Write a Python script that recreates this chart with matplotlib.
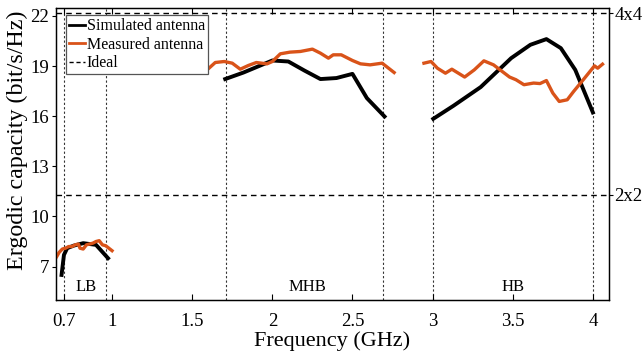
import matplotlib
matplotlib.use("Agg")
import matplotlib.pyplot as plt

plt.rcParams['font.family'] = ['Liberation Serif', 'DejaVu Serif']
plt.rcParams['mathtext.fontset'] = 'stix'

# ---- data ----
lb_sim_f = [0.685, 0.70, 0.72, 0.76, 0.82, 0.90, 0.975]
lb_sim_v = [6.5, 7.7, 8.1, 8.25, 8.4, 8.3, 7.5]
lb_meas_f = [0.655, 0.67, 0.69, 0.71, 0.73, 0.75, 0.77, 0.79, 0.80, 0.82,
             0.84, 0.86, 0.88, 0.90, 0.92, 0.94, 0.96, 0.98, 1.0]
lb_meas_v = [7.6, 7.85, 8.05, 8.1, 8.2, 8.2, 8.3, 8.35, 8.1, 8.05,
             8.3, 8.35, 8.4, 8.5, 8.55, 8.3, 8.25, 8.1, 7.95]

mhb_sim_f = [1.706, 1.82, 2.0, 2.10, 2.20, 2.30, 2.40, 2.50, 2.59, 2.70]
mhb_sim_v = [18.22, 18.61, 19.33, 19.27, 18.73, 18.22, 18.28, 18.53, 17.08, 15.98]
mhb_meas_f = [1.60, 1.644, 1.70, 1.75, 1.80, 1.85, 1.90, 1.967, 2.0, 2.05, 2.11,
              2.175, 2.25, 2.30, 2.35, 2.38, 2.43, 2.50, 2.55, 2.61, 2.685, 2.76]
mhb_meas_v = [18.83, 19.21, 19.27, 19.17, 18.81, 19.03, 19.21, 19.13, 19.27, 19.73, 19.83,
              19.87, 20.01, 19.77, 19.47, 19.67, 19.67, 19.33, 19.13, 19.07, 19.17, 18.61]

hb_sim_f = [3.004, 3.13, 3.30, 3.49, 3.61, 3.71, 3.80, 3.89, 4.0]
hb_sim_v = [15.84, 16.62, 17.74, 19.47, 20.27, 20.61, 20.07, 18.77, 16.22]
hb_meas_f = [2.946, 2.99, 3.03, 3.08, 3.12, 3.20, 3.26, 3.32, 3.38, 3.48, 3.52, 3.57,
             3.63, 3.67, 3.71, 3.75, 3.79, 3.84, 3.88, 3.94, 4.01, 4.03, 4.06]
hb_meas_v = [19.17, 19.27, 18.87, 18.57, 18.81, 18.34, 18.77, 19.31, 19.07, 18.34, 18.18, 17.88,
             17.98, 17.95, 18.13, 17.38, 16.88, 16.98, 17.48, 18.18, 19.01, 18.87, 19.11]

ideal_values = [22.16, 11.3]
ideal_labels = ['4x4', '2x2']
band_edges = [0.698, 0.96, 1.71, 2.69, 3.0, 4.0]
band_names = ['LB', 'MHB', 'HB']
band_label_x = [0.84, 2.22, 3.5]

xticks = [0.7, 1, 1.5, 2, 2.5, 3, 3.5, 4]
xticklabels = ['0.7', '1', '1.5', '2', '2.5', '3', '3.5', '4']
yticks = [7, 10, 13, 16, 19, 22]

black = '#000000'
orange = '#D95319'

fig = plt.figure(figsize=(6.43, 3.58), dpi=100)
ax = fig.add_axes([0.087, 0.162, 0.86, 0.817])

for xe in band_edges:
    ax.axvline(xe, color='#333333', linestyle=(0, (2, 2)), linewidth=0.8, zorder=1)
for yv in ideal_values:
    ax.axhline(yv, color='black', linestyle=(0, (4, 3)), linewidth=1.0, zorder=1)

ax.plot(lb_sim_f, lb_sim_v, color=black, linewidth=2.8, zorder=3)
ax.plot(mhb_sim_f, mhb_sim_v, color=black, linewidth=2.8, zorder=3)
ax.plot(hb_sim_f, hb_sim_v, color=black, linewidth=2.8, zorder=3)
ax.plot(lb_meas_f, lb_meas_v, color=orange, linewidth=2.4, zorder=4)
ax.plot(mhb_meas_f, mhb_meas_v, color=orange, linewidth=2.4, zorder=4)
ax.plot(hb_meas_f, hb_meas_v, color=orange, linewidth=2.4, zorder=4)

for name, xl in zip(band_names, band_label_x):
    ax.text(xl, 5.3, name, ha='center', va='bottom', fontsize=12)

ax.set_xlim(0.65, 4.1)
ax.set_ylim(5, 22.5)
ax.set_xticks(xticks)
ax.set_xticklabels(xticklabels)
ax.set_yticks(yticks)
ax.tick_params(axis='x', direction='in', top=True, labelsize=13.5, length=4, pad=9)
ax.tick_params(axis='y', direction='out', right=False, labelsize=13.5, length=3, pad=2)
ax.set_xlabel('Frequency (GHz)', fontsize=16, labelpad=1)
ax.set_ylabel('Ergodic capacity (bit/s/Hz)', fontsize=17.3)
ax.yaxis.set_label_coords(-0.05, 0.547)

ax2 = ax.twinx()
ax2.set_ylim(ax.get_ylim())
ax2.set_yticks(ideal_values)
ax2.set_yticklabels(ideal_labels)
ax2.tick_params(axis='y', direction='out', labelsize=13.5, length=3, pad=1)

from matplotlib.lines import Line2D
handles = [Line2D([], [], color=black, linewidth=2.0),
           Line2D([], [], color=orange, linewidth=2.0),
           Line2D([], [], color='black', linestyle=(0, (3, 2)), linewidth=1.0)]
leg = ax.legend(handles, ['Simulated antenna', 'Measured antenna', 'Ideal'],
                loc='upper left', bbox_to_anchor=(0.018, 0.974), borderaxespad=0,
                fontsize=11.5, handlelength=1.0, handletextpad=0.1, labelspacing=0.15,
                borderpad=0.2, fancybox=False, framealpha=1, edgecolor='#555555')
leg.get_frame().set_linewidth(0.9)

for a in (ax, ax2):
    for s in a.spines.values():
        s.set_linewidth(0.9)

fig.savefig('out.png', dpi=100)
